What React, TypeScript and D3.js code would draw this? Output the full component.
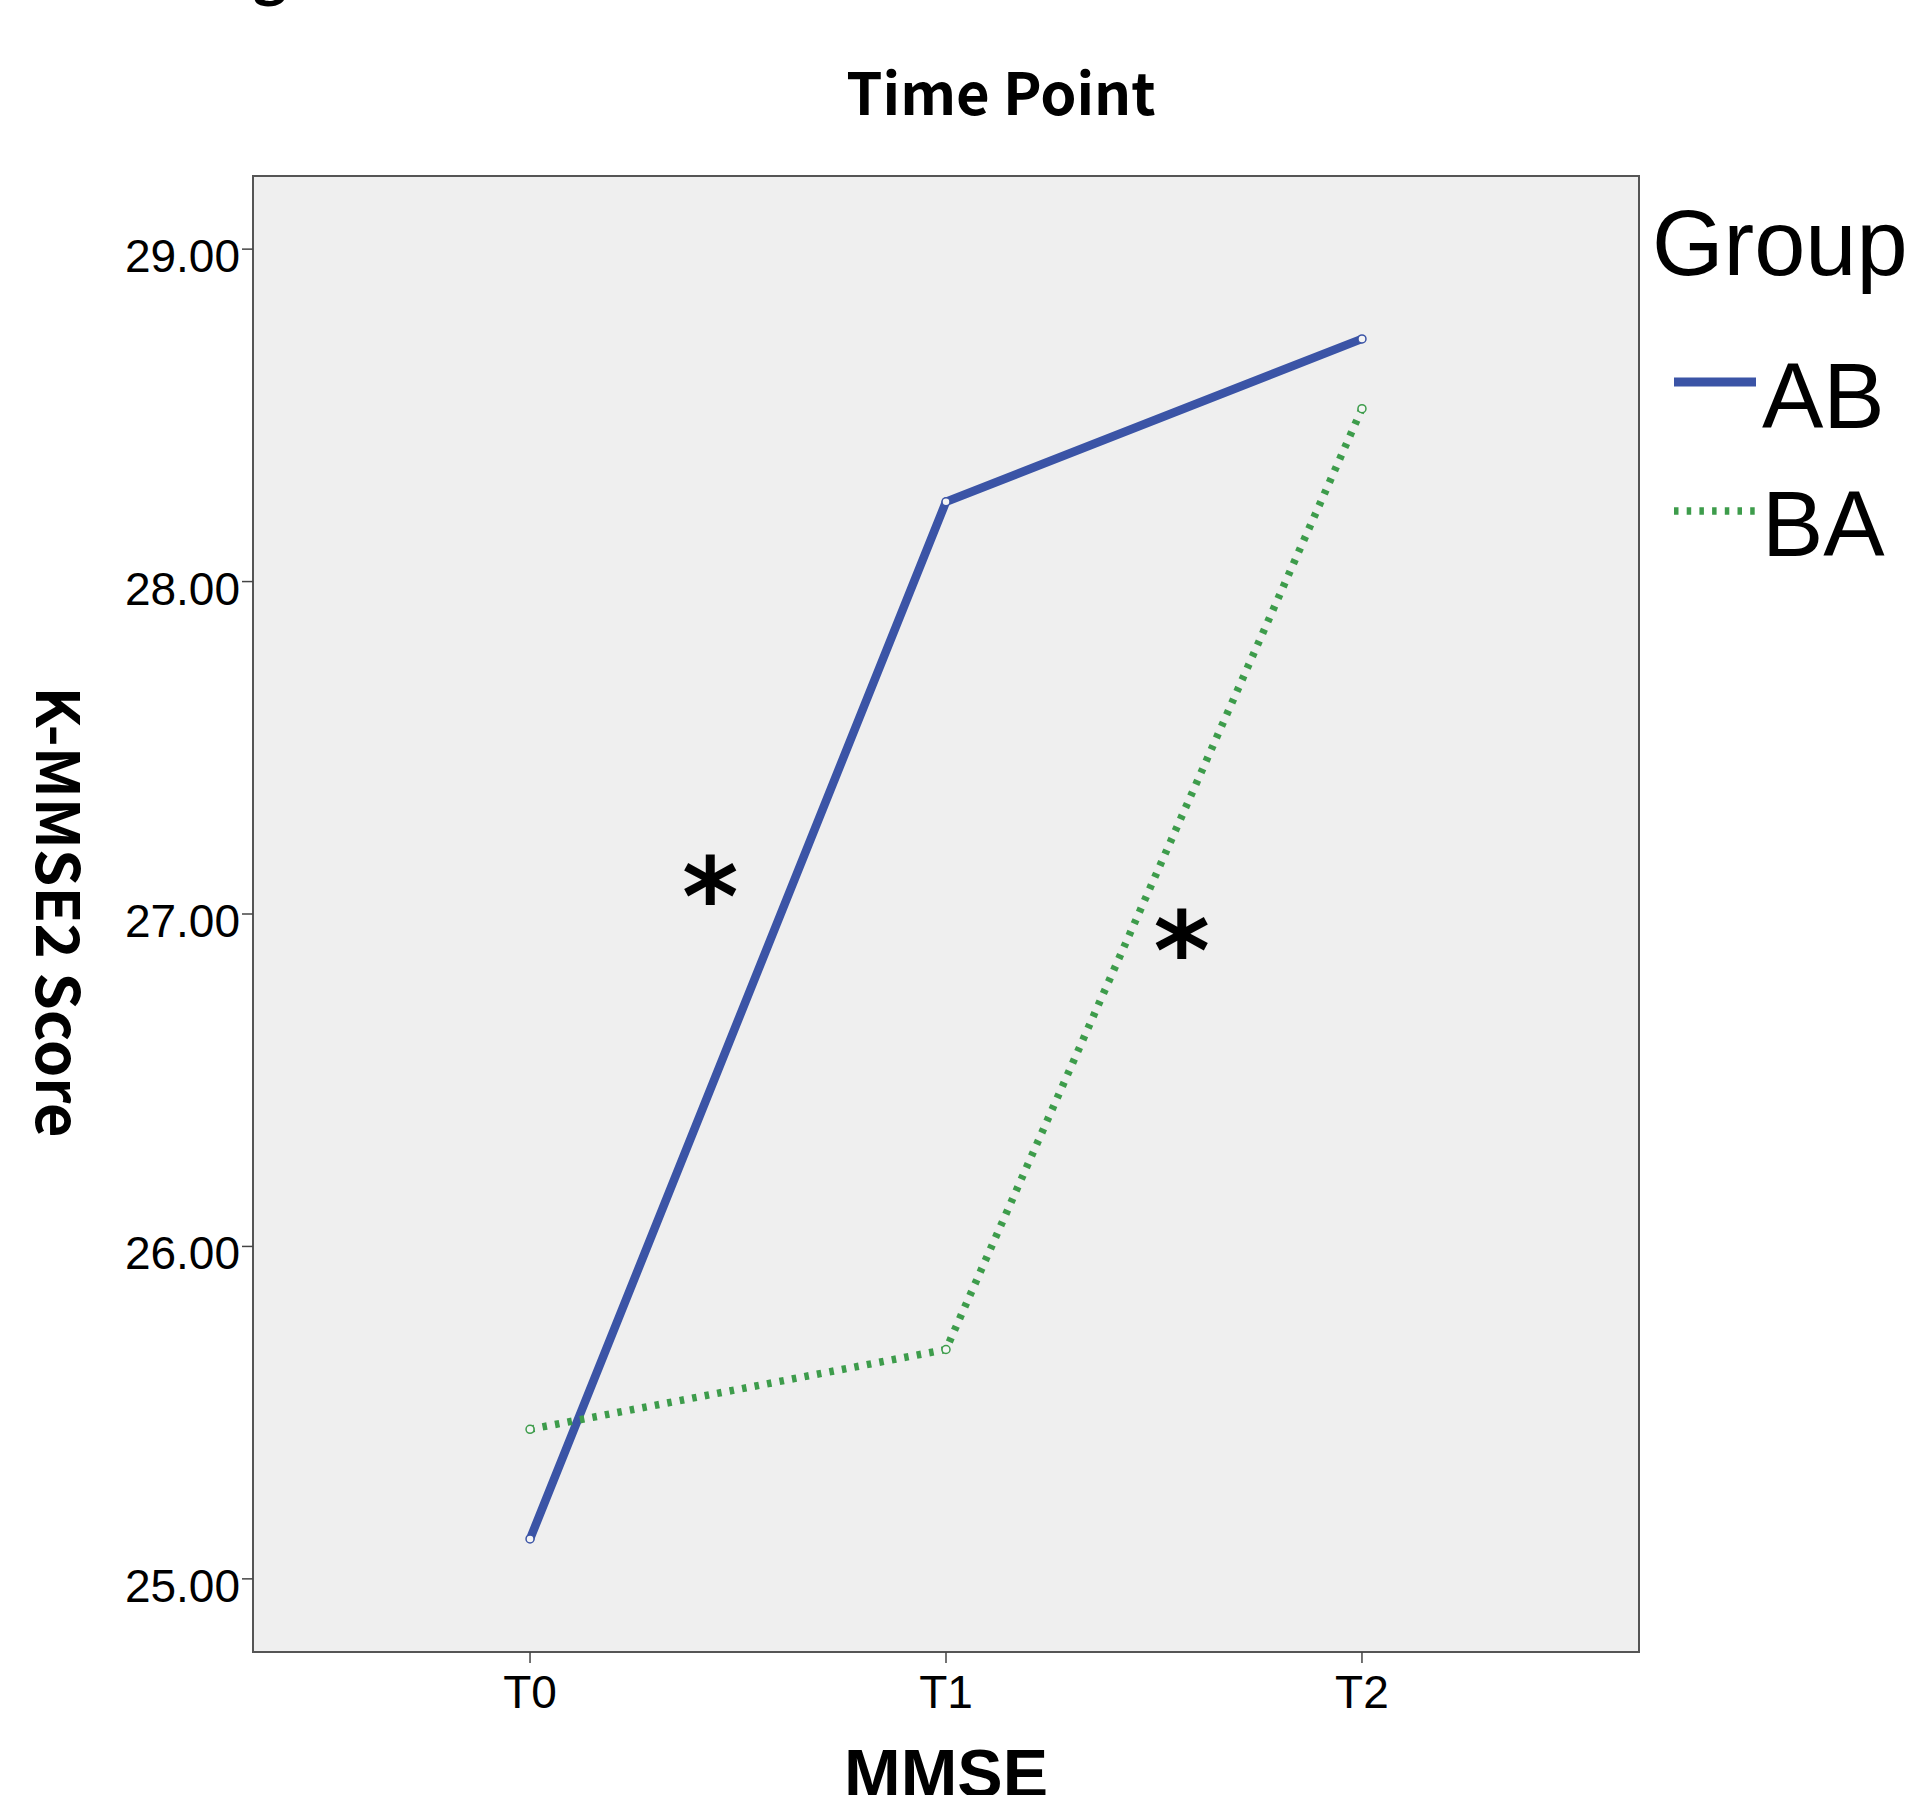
import React from "react";
import * as d3 from "d3";

const timePoints = ["T0", "T1", "T2"];
const groups = ["AB", "BA"];
const abValues = [25.12, 28.24, 28.73];
const baValues = [25.45, 25.69, 28.52];
const yTicks = [25, 26, 27, 28, 29];
const groupColors = ["#3b54a6", "#3d9c4b"];
const asterisks = [
  { x: 0.433, y: 27.11 },
  { x: 1.567, y: 26.95 },
];

const W = 1916;
const H = 1795;
const frame = { left: 253, right: 1639, top: 176, bottom: 1652 };
const SANS = "'Liberation Sans', Arial, sans-serif";
const KR = "'Noto Sans CJK KR', 'Noto Sans', sans-serif";
const DV = "'DejaVu Sans', sans-serif";

export default function App() {
  const x = d3
    .scalePoint<string>()
    .domain(timePoints)
    .range([frame.left, frame.right])
    .padding(0.666);
  const y = d3.scaleLinear().domain([24.78, 29.22]).range([frame.bottom, frame.top]);
  const xNum = d3
    .scaleLinear()
    .domain([0, 2])
    .range([x("T0") as number, x("T2") as number]);

  const series = [abValues, baValues];
  const line = d3
    .line<number>()
    .x((_, i) => x(timePoints[i]) as number)
    .y((d) => y(d));

  return (
    <svg
      width={W}
      height={H}
      style={{ position: "absolute", left: 0, top: 0, display: "block", background: "#fff" }}
    >
      {/* cut-off heading descender */}
      <text x={252} y={-8} fontFamily={KR} fontWeight={700} fontSize={58} fill="#000">
        g
      </text>

      <text x={1001} y={115} textAnchor="middle" fontFamily={KR} fontWeight={700} fontSize={58} fill="#000">
        Time Point
      </text>

      <rect
        x={frame.left}
        y={frame.top}
        width={frame.right - frame.left}
        height={frame.bottom - frame.top}
        fill="#efefef"
        stroke="#555"
        strokeWidth={2}
      />

      {yTicks.map((t) => (
        <g key={t}>
          <line x1={frame.left - 11} x2={frame.left} y1={y(t)} y2={y(t)} stroke="#444" strokeWidth={1.5} />
          <text x={240} y={y(t) + 23} textAnchor="end" fontFamily={SANS} fontSize={46} fill="#000">
            {t.toFixed(2)}
          </text>
        </g>
      ))}

      {timePoints.map((t) => (
        <g key={t}>
          <line x1={x(t)} x2={x(t)} y1={frame.bottom} y2={frame.bottom + 11} stroke="#444" strokeWidth={1.5} />
          <text x={x(t)} y={1708} textAnchor="middle" fontFamily={SANS} fontSize={46} fill="#000">
            {t}
          </text>
        </g>
      ))}

      <text
        transform={`translate(36, 912) rotate(90)`}
        textAnchor="middle"
        fontFamily={KR}
        fontWeight={700}
        fontSize={60}
        fill="#000"
      >
        K-MMSE2 Score
      </text>

      <text x={946} y={1797} textAnchor="middle" fontFamily={SANS} fontWeight={700} fontSize={68} fill="#000">
        MMSE
      </text>

      {series.map((vals, si) => (
        <g key={groups[si]}>
          <path
            d={line(vals) || ""}
            fill="none"
            stroke={groupColors[si]}
            strokeWidth={si === 0 ? 8.5 : 7.5}
            strokeDasharray={si === 0 ? undefined : "4.5 8.2"}
            strokeLinejoin="miter"
          />
          {vals.map((v, i) => (
            <circle
              key={i}
              cx={x(timePoints[i])}
              cy={y(v)}
              r={4}
              fill="#f4f4f4"
              stroke={groupColors[si]}
              strokeWidth={1.5}
            />
          ))}
        </g>
      ))}

      {asterisks.map((a, i) => (
        <text
          key={i}
          x={xNum(a.x)}
          y={y(a.y) + 58}
          textAnchor="middle"
          fontFamily={DV}
          fontWeight={700}
          fontSize={108}
          fill="#000"
        >
          *
        </text>
      ))}

      {/* Legend */}
      <text x={1652} y={275} fontFamily={SANS} fontSize={92} fill="#000">
        Group
      </text>
      {groups.map((g, i) => (
        <g key={g}>
          <line
            x1={1674}
            x2={1756}
            y1={382 + i * 129}
            y2={382 + i * 129}
            stroke={groupColors[i]}
            strokeWidth={i === 0 ? 9 : 7.5}
            strokeDasharray={i === 0 ? undefined : "4.5 8.2"}
          />
          <text x={1762} y={428 + i * 128} fontFamily={SANS} fontSize={92} fill="#000">
            {g}
          </text>
        </g>
      ))}
    </svg>
  );
}
